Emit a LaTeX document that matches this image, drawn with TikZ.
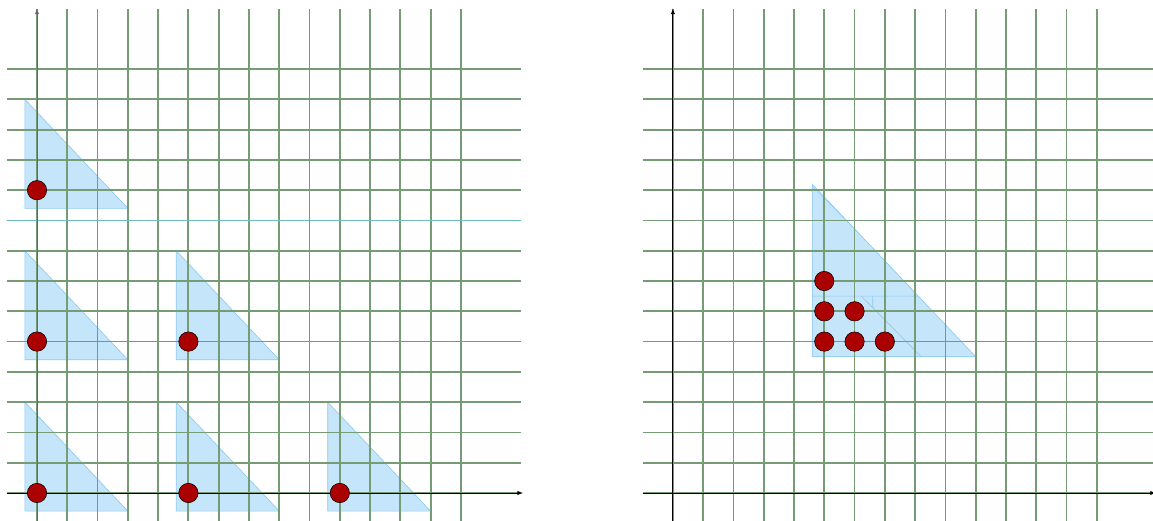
\documentclass[tikz,border=0pt]{standalone}
\definecolor{gridgreen}{RGB}{118,156,118}
\definecolor{cellblue}{RGB}{196,229,250}
\definecolor{celledge}{RGB}{140,202,240}
\definecolor{dotred}{RGB}{170,0,0}
\definecolor{markteal}{RGB}{110,190,192}
\definecolor{markgrey}{RGB}{112,150,150}

\begin{document}
\begin{tikzpicture}[line width=0.8pt,
  gridline/.style={gridgreen,line width=1.7pt},
  axis/.style={->,>=latex,line width=0.8pt},
  cell/.style={fill=cellblue,draw=celledge,line width=0.6pt},
  site/.style={fill=dotred,draw=black,line width=0.5pt}]
  \useasboundingbox (-1.222,-0.925) rectangle (36.856,16.281);
  % left lattice: one cell per site
  \foreach \x/\y in {0/0,5/0,10/0,0/5,5/5,0/10}
    \draw[cell] (\x-0.4,\y-0.6) -- (\x+3,\y-0.6) -- (\x-0.4,\y+3) -- cycle;
  \foreach \k in {0,...,14} {
    \draw[gridline] (\k,-1) -- (\k,16);
    \draw[gridline] (-1,\k) -- (16,\k);
  }
  \draw[gridline,markteal] (-1,9) -- (16,9);
  \draw[gridline,markgrey] (9,-1) -- (9,16);
  \draw[axis] (-1,0) -- (16.05,0);
  \draw[axis,black!60] (0,-1) -- (0,16);
  \foreach \x/\y in {0/0,5/0,10/0,0/5,5/5,0/10}
    \filldraw[site] (\x,\y) circle (0.32);
  % right lattice: overlapping cells inside one hull
  \begin{scope}[shift={(21,0)}]
    \begin{scope}
      \clip (4.6,4.5) -- (10,4.5) -- (4.6,10.2) -- cycle;
      \foreach \x/\y in {6/5,5/6,6/6,7/5,5/5,5/7}
        \draw[cell] (\x-0.4,\y-0.5) -- (\x+3.2,\y-0.5) -- (\x-0.4,\y+3.15) -- cycle;
    \end{scope}
    \draw[celledge,line width=0.6pt] (4.6,4.5) -- (10,4.5) -- (4.6,10.2) -- cycle;
    \foreach \k in {0,...,14} {
      \draw[gridline] (\k,-1) -- (\k,16);
      \draw[gridline] (-1,\k) -- (16,\k);
    }
    \draw[axis] (-1,0) -- (15.95,0);
    \draw[axis] (0,-1) -- (0,16);
    \foreach \x/\y in {5/5,6/5,7/5,5/6,6/6,5/7}
      \filldraw[site] (\x,\y) circle (0.32);
  \end{scope}
\end{tikzpicture}
\end{document}
